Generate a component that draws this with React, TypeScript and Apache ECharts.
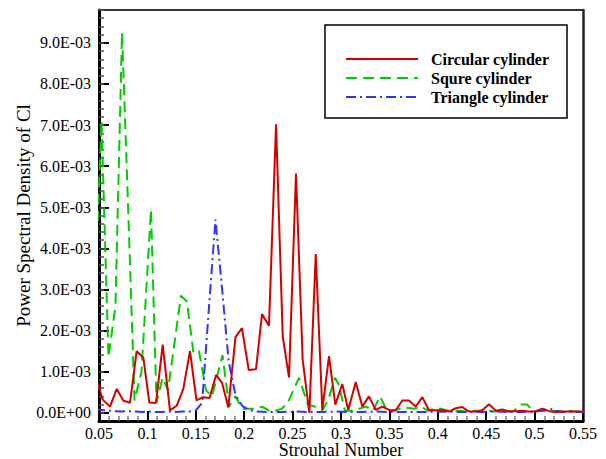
import React, { useEffect, useRef } from "react";
import * as echarts from "echarts";

const SCALE = 1e-3;

const circularX = [0.0469, 0.0538, 0.0614, 0.0683, 0.0751, 0.082, 0.0889, 0.0958, 0.102, 0.1089, 0.1158, 0.1233, 0.1303, 0.1371, 0.144, 0.1507, 0.1574, 0.1642, 0.1709, 0.1771, 0.1836, 0.191, 0.1977, 0.2047, 0.2122, 0.2184, 0.2256, 0.2329, 0.2398, 0.2463, 0.2535, 0.2604, 0.2673, 0.2739, 0.2807, 0.2876, 0.2941, 0.3013, 0.3075, 0.3152, 0.322, 0.3289, 0.3358, 0.3427, 0.3496, 0.3565, 0.3633, 0.3702, 0.3772, 0.384, 0.3909, 0.3978, 0.4047, 0.4116, 0.4185, 0.4253, 0.4322, 0.4392, 0.446, 0.4529, 0.4598, 0.4666, 0.4736, 0.4805, 0.4873, 0.4942, 0.5011, 0.508, 0.5149, 0.5218, 0.5286, 0.5355, 0.5425, 0.5493];
const circularY = [0.85, 0.32, 0.15, 0.58, 0.3, 0.24, 1.5, 1.34, 0.25, 0.24, 1.66, 0.06, 0.17, 0.58, 1.5, 0.3, 0.38, 0.36, 0.92, 0.73, 0.13, 1.84, 2.06, 1.04, 1.06, 2.4, 2.12, 7.02, 1.86, 0.86, 5.82, 1.29, 0.0, 3.86, 0.07, 1.38, 0.2, 0.7, 0.07, 0.75, 0.15, 0.4, 0.07, 0.15, 0.07, 0.06, 0.3, 0.3, 0.15, 0.38, 0.06, 0.06, 0.06, 0.03, 0.11, 0.14, 0.03, 0.03, 0.06, 0.21, 0.05, 0.08, 0.03, 0.04, 0.05, 0.03, 0.04, 0.1, 0.04, 0.02, 0.03, 0.03, 0.03, 0.03];

const squareX = [0.0459, 0.0526, 0.0598, 0.067, 0.0738, 0.0805, 0.0867, 0.0939, 0.1037, 0.1094, 0.1156, 0.1213, 0.1347, 0.1409, 0.1476, 0.1533, 0.1605, 0.1667, 0.1776, 0.1843, 0.191, 0.1977, 0.205, 0.2117, 0.2184, 0.2256, 0.2323, 0.239, 0.2452, 0.2566, 0.2659, 0.2731, 0.2804, 0.2866, 0.2938, 0.2974, 0.3041, 0.3114, 0.3186, 0.3258, 0.3331, 0.3403, 0.3475, 0.3548, 0.361, 0.3682, 0.3754, 0.3826, 0.3899, 0.3961, 0.4033, 0.4105, 0.4178, 0.424, 0.4312, 0.4384, 0.4446, 0.4519, 0.4591, 0.4653, 0.4725, 0.4787, 0.486, 0.4921, 0.4994, 0.5066, 0.5128, 0.52, 0.5273, 0.5345, 0.5417, 0.549];
const squareY = [3.0, 7.1, 1.35, 2.6, 9.25, 4.7, 0.3, 1.0, 4.94, 0.25, 0.85, 0.55, 2.85, 2.7, 1.45, 1.5, 0.55, 0.4, 1.4, 0.15, 0.4, 0.1, 0.1, 0.1, 0.15, 0.05, 0.05, 0.1, 0.25, 0.85, 0.2, 0.15, 0.05, 0.3, 0.85, 0.7, 0.05, 0.05, 0.1, 0.15, 0.05, 0.4, 0.05, 0.05, 0.1, 0.12, 0.1, 0.15, 0.05, 0.1, 0.1, 0.05, 0.05, 0.05, 0.02, 0.05, 0.03, 0.05, 0.03, 0.05, 0.03, 0.05, 0.2, 0.2, 0.03, 0.05, 0.03, 0.05, 0.03, 0.05, 0.03, 0.03];

const triangleX = [0.0459, 0.0531, 0.06, 0.0669, 0.0738, 0.0807, 0.0876, 0.0944, 0.1013, 0.1082, 0.1151, 0.122, 0.1289, 0.1358, 0.1427, 0.1496, 0.1565, 0.1634, 0.1703, 0.1772, 0.184, 0.1909, 0.1978, 0.2047, 0.2116, 0.2254, 0.2392, 0.253, 0.2668, 0.2806, 0.2944, 0.3082, 0.322, 0.3358, 0.3496, 0.3634, 0.3772, 0.391, 0.4048, 0.4186, 0.4324, 0.4462, 0.46, 0.4738, 0.4876, 0.5014, 0.5083, 0.5152, 0.5221, 0.529, 0.5428, 0.5566];
const triangleY = [0.08, 0.07, 0.05, 0.04, 0.03, 0.04, 0.03, 0.02, 0.03, 0.02, 0.02, 0.03, 0.02, 0.03, 0.03, 0.05, 0.24, 2.5, 4.7, 3.0, 1.24, 0.44, 0.17, 0.07, 0.03, 0.02, 0.02, 0.03, 0.02, 0.02, 0.03, 0.02, 0.02, 0.03, 0.02, 0.02, 0.02, 0.02, 0.03, 0.02, 0.02, 0.02, 0.03, 0.02, 0.02, 0.03, 0.06, 0.1, 0.05, 0.02, 0.02, 0.02];

const seriesNames = ["Circular cylinder", "Squre cylinder", "Triangle cylinder"];

const FONT = "Liberation Serif";

function sci(v: number): string {
  if (Math.abs(v) < 1e-12) return "0.0E+00";
  const [m, e] = v.toExponential(1).split("e");
  const n = parseInt(e, 10);
  return m + "E" + (n < 0 ? "-" : "+") + String(Math.abs(n)).padStart(2, "0");
}

function pairs(xs: number[], ys: number[]) {
  return xs.map((x, i) => [x, ys[i] * SCALE]);
}

// plot frame in pixels
const G_LEFT = 99;
const G_RIGHT = 23;
const G_TOP = 10;
const G_BOTTOM = 38;
const Y_FRAME_MIN = -0.0002;
const Y_MAX = 0.0098;

export default function App() {
  const ref = useRef<HTMLDivElement>(null);
  useEffect(() => {
    if (!ref.current) return;
    const chart = echarts.init(ref.current, null, { renderer: "svg" });
    const plotH = 459 - G_TOP - G_BOTTOM;
    const zeroFromBottom = G_BOTTOM + (plotH * (0 - Y_FRAME_MIN)) / (Y_MAX - Y_FRAME_MIN);
    const noLine = { show: false };
    chart.setOption({
      animation: false,
      backgroundColor: "#fff",
      grid: [
        { left: G_LEFT, right: G_RIGHT, top: G_TOP, bottom: G_BOTTOM, containLabel: false, outerBoundsMode: "none" },
        { left: G_LEFT, right: G_RIGHT, top: G_TOP, bottom: zeroFromBottom, containLabel: false, outerBoundsMode: "none" },
      ],
      legend: {
        orient: "vertical",
        left: 345,
        top: 51,
        padding: 0,
        itemWidth: 72,
        itemHeight: 14,
        itemGap: 3,
        data: seriesNames,
        itemStyle: { color: "rgba(0,0,0,0)", borderColor: "rgba(0,0,0,0)", borderWidth: 0, opacity: 0 },
        textStyle: {
          fontFamily: FONT,
          fontWeight: "bold",
          fontSize: 16,
          color: "#000",
          padding: [0, 0, 0, 8],
        },
      },
      graphic: [
        {
          type: "rect",
          shape: { x: 325, y: 25, width: 242, height: 93 },
          style: { fill: "none", stroke: "#000", lineWidth: 1.5 },
          z: 10,
        },
      ],
      xAxis: [
        {
          type: "value",
          gridIndex: 0,
          min: 0.05,
          max: 0.55,
          interval: 0.05,
          position: "bottom",
          name: "Strouhal Number",
          nameLocation: "middle",
          nameGap: 20,
          nameMoveOverlap: false,
          nameTextStyle: { fontFamily: FONT, fontSize: 18, color: "#000" },
          axisLine: { onZero: false, lineStyle: { color: "#000", width: 3 } },
          axisTick: { inside: true, length: 10, lineStyle: { color: "#000", width: 2 } },
          minorTick: { show: true, splitNumber: 5, length: 5, lineStyle: { color: "#777", width: 1.5 } },
          axisLabel: {
            fontFamily: FONT,
            fontSize: 16,
            color: "#000",
            margin: 4,
            formatter: (v: number) => String(parseFloat(v.toFixed(2))),
          },
          splitLine: noLine,
          minorSplitLine: noLine,
        },
        {
          type: "value",
          gridIndex: 0,
          min: 0.05,
          max: 0.55,
          position: "top",
          axisLine: { onZero: false, lineStyle: { color: "#333", width: 2 } },
          axisTick: noLine,
          axisLabel: noLine,
          splitLine: noLine,
        },
        {
          type: "value",
          gridIndex: 1,
          min: 0.05,
          max: 0.55,
          position: "bottom",
          axisLine: { show: false, onZero: false },
          axisTick: noLine,
          axisLabel: noLine,
          splitLine: noLine,
        },
      ],
      yAxis: [
        {
          // data axis: 0 … 9.8E-03, labelled every 1.0E-03
          type: "value",
          gridIndex: 1,
          min: 0,
          max: Y_MAX,
          interval: 0.001,
          position: "left",
          axisLine: { show: false, onZero: false },
          axisTick: { show: true, inside: true, length: 10, lineStyle: { color: "#000", width: 2 } },
          axisLabel: {
            fontFamily: FONT,
            fontSize: 16,
            color: "#000",
            margin: 8,
            showMaxLabel: false,
            formatter: (v: number) => sci(v),
          },
          splitLine: noLine,
        },
        {
          // minor ticks every 2.0E-04
          type: "value",
          gridIndex: 1,
          min: 0,
          max: Y_MAX,
          interval: 0.0002,
          position: "left",
          axisLine: { show: false, onZero: false },
          axisTick: { show: true, inside: true, length: 5, lineStyle: { color: "#555", width: 1.5 } },
          axisLabel: noLine,
          splitLine: noLine,
        },
        {
          // frame: left edge + axis title
          type: "value",
          gridIndex: 0,
          min: Y_FRAME_MIN,
          max: Y_MAX,
          position: "left",
          name: "Power Spectral Density of Cl",
          nameLocation: "middle",
          nameGap: 66,
          nameMoveOverlap: false,
          nameTextStyle: { fontFamily: FONT, fontSize: 19, color: "#000" },
          axisLine: { show: true, onZero: false, lineStyle: { color: "#000", width: 3 } },
          axisTick: noLine,
          axisLabel: noLine,
          splitLine: noLine,
        },
        {
          // frame: right edge
          type: "value",
          gridIndex: 0,
          min: Y_FRAME_MIN,
          max: Y_MAX,
          position: "right",
          axisLine: { show: true, onZero: false, lineStyle: { color: "#222", width: 2.5 } },
          axisTick: noLine,
          axisLabel: noLine,
          splitLine: noLine,
        },
      ],
      series: [
        {
          name: seriesNames[0],
          type: "line",
          symbol: "none",
          xAxisIndex: 2,
          yAxisIndex: 0,
          data: pairs(circularX, circularY),
          lineStyle: { color: "#d40000", width: 2, type: "solid" },
          itemStyle: { color: "#d40000" },
          z: 3,
        },
        {
          name: seriesNames[1],
          type: "line",
          symbol: "none",
          xAxisIndex: 2,
          yAxisIndex: 0,
          data: pairs(squareX, squareY),
          lineStyle: { color: "#00cc00", width: 2, type: [11, 6] },
          itemStyle: { color: "#00cc00" },
          z: 2,
        },
        {
          name: seriesNames[2],
          type: "line",
          symbol: "none",
          xAxisIndex: 2,
          yAxisIndex: 0,
          data: pairs(triangleX, triangleY),
          lineStyle: { color: "#3333ff", width: 2, type: [10, 4, 2, 4] },
          itemStyle: { color: "#3333ff" },
          z: 2,
        },
      ],
    });
    return () => chart.dispose();
  }, []);
  return (
    <div
      ref={ref}
      style={{ position: "absolute", left: 0, top: 0, width: 606, height: 459 }}
    />
  );
}
